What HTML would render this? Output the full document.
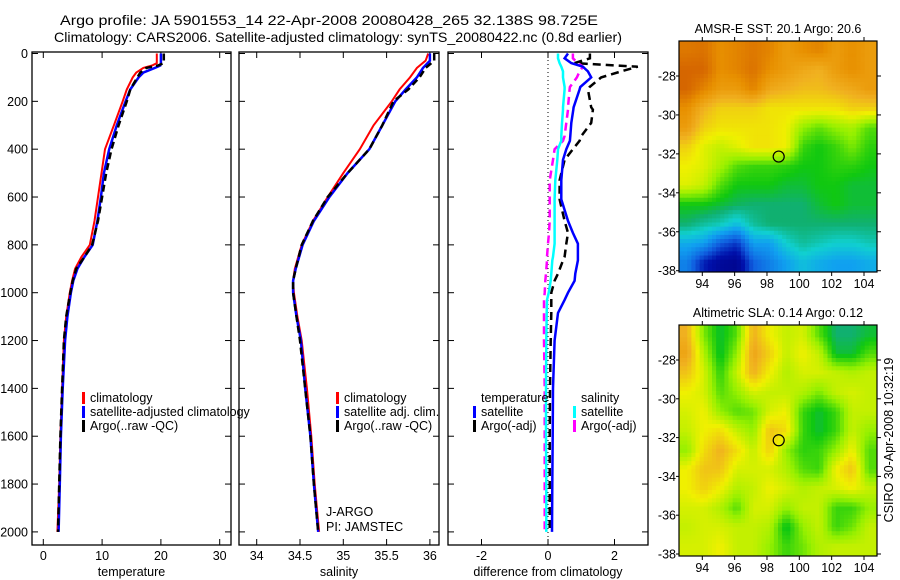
<!DOCTYPE html>
<html><head><meta charset="utf-8"><style>
body{margin:0;background:#fff;}
svg{display:block;font-family:"Liberation Sans",sans-serif;}
</style></head><body>
<svg id="s" width="900" height="580" viewBox="0 0 900 580">
<text x="329" y="25" font-size="14" textLength="538" lengthAdjust="spacingAndGlyphs" text-anchor="middle">Argo profile: JA 5901553_14 22-Apr-2008 20080428_265 32.138S 98.725E</text>
<text x="338" y="42" font-size="14" textLength="568" lengthAdjust="spacingAndGlyphs" text-anchor="middle">Climatology: CARS2006. Satellite-adjusted climatology: synTS_20080422.nc (0.8d earlier)</text>
<text transform="translate(893,440) rotate(-90)" font-size="12.5" text-anchor="middle">CSIRO 30-Apr-2008 10:32:19</text>
</svg>
<script>
// ---- data ----
const tDepth=[0,20,40,50,60,80,100,150,200,300,400,500,600,700,800,850,900,950,1000,1100,1200,1400,1600,1800,2000];
const tArgo=[20.5,20.5,20.5,19.5,17.5,16.5,16.0,14.8,14.2,12.8,11.6,10.7,10.0,9.3,8.3,7.0,5.6,5.0,4.6,3.9,3.5,3.2,2.9,2.7,2.5];
const tClim=[19.3,19.3,19.3,18.5,17.0,15.8,15.2,14.2,13.5,12.0,10.5,9.9,9.3,8.7,7.9,6.5,5.4,4.9,4.5,3.9,3.5,3.2,2.9,2.7,2.4];
const tSat=[20.0,20.0,20.0,19.9,19.0,17.0,16.2,14.8,14.0,12.5,11.2,10.3,9.8,9.2,8.4,7.0,5.8,5.1,4.7,4.1,3.7,3.3,3.0,2.8,2.6];
const sDepth=[0,30,60,100,150,200,300,400,500,600,700,800,900,950,1000,1100,1200,1400,1600,1800,2000];
const sArgo=[36.05,36.05,35.95,35.88,35.75,35.58,35.45,35.30,35.05,34.82,34.65,34.52,34.45,34.42,34.42,34.46,34.50,34.56,34.62,34.66,34.71];
const sClim=[35.98,35.95,35.85,35.77,35.65,35.56,35.35,35.19,35.00,34.82,34.65,34.52,34.44,34.42,34.43,34.47,34.52,34.58,34.63,34.67,34.72];
const sSat=[36.0,36.0,35.92,35.85,35.72,35.60,35.45,35.30,35.05,34.84,34.66,34.53,34.45,34.42,34.42,34.46,34.51,34.56,34.62,34.66,34.71];
const dDepth=[0,20,40,55,75,100,140,150,225,235,290,345,365,400,445,530,610,700,750,795,850,865,920,950,1000,1030,1085,1200,1400,1600,1800,2000];
const dTSat=[0.6,0.5,0.7,1.05,1.2,1.3,0.97,0.95,0.77,0.76,0.7,0.67,0.66,0.55,0.45,0.4,0.4,0.6,0.75,0.9,0.9,0.9,0.82,0.8,0.6,0.5,0.3,0.2,0.15,0.14,0.13,0.12];
const dTArgo=[1.26,1.26,0.8,2.7,2.2,1.6,1.25,1.2,1.3,1.35,1.3,1.0,0.95,0.75,0.5,0.35,0.35,0.5,0.6,0.55,0.5,0.45,0.3,0.2,0.1,0.1,0.1,0.08,0.06,0.05,0.05,0.05];
const dSSat=[0.3,0.3,0.35,0.4,0.45,0.45,0.5,0.5,0.45,0.45,0.42,0.4,0.4,0.3,0.28,0.22,0.2,0.2,0.2,0.2,0.15,0.13,0.1,0.08,0.02,-0.03,-0.04,-0.05,-0.06,-0.06,-0.05,-0.05];
const dSArgo=[0.75,0.75,0.9,1.05,0.95,0.87,0.66,0.65,0.6,0.6,0.55,0.5,0.45,0.2,0.15,0.05,0.05,0.05,0.03,0.0,-0.03,-0.03,-0.06,-0.08,-0.1,-0.12,-0.12,-0.12,-0.1,-0.1,-0.1,-0.1];
const depthTicks=[0,200,400,600,800,1000,1200,1400,1600,1800,2000];
const tTicks=[0,10,20,30];
const sTicks=[34,34.5,35,35.5,36];
const dTicks=[-2,0,2];
const lonTicks=[94,96,98,100,102,104];
const latTicks=[-28,-30,-32,-34,-36,-38];
const floatLon=98.725, floatLat=-32.138;
const sstGrid=[
[0.92,0.93,0.88,0.9,0.92,0.9,0.85,0.88,0.9,0.85,0.88,0.85],
[0.95,0.95,0.88,0.9,0.93,0.88,0.85,0.82,0.8,0.85,0.88,0.85],
[0.95,0.9,0.85,0.85,0.9,0.82,0.8,0.78,0.78,0.8,0.82,0.85],
[0.88,0.8,0.75,0.75,0.75,0.72,0.72,0.72,0.72,0.72,0.75,0.75],
[0.85,0.75,0.72,0.72,0.72,0.72,0.7,0.6,0.56,0.6,0.62,0.55],
[0.75,0.68,0.65,0.68,0.72,0.72,0.7,0.53,0.5,0.53,0.58,0.52],
[0.7,0.68,0.62,0.55,0.53,0.53,0.52,0.5,0.5,0.52,0.52,0.5],
[0.68,0.65,0.55,0.5,0.5,0.5,0.48,0.48,0.5,0.5,0.48,0.48],
[0.5,0.5,0.48,0.46,0.45,0.45,0.45,0.45,0.48,0.5,0.48,0.48],
[0.45,0.42,0.4,0.35,0.42,0.45,0.45,0.45,0.45,0.45,0.45,0.45],
[0.32,0.3,0.2,0.15,0.3,0.3,0.38,0.42,0.4,0.38,0.38,0.4],
[0.25,0.12,0.06,0.04,0.2,0.25,0.3,0.35,0.32,0.3,0.3,0.32]];
const slaGrid=[
[0.8,0.58,0.48,0.55,0.8,0.7,0.65,0.67,0.55,0.45,0.45,0.48],
[0.83,0.63,0.48,0.6,0.83,0.75,0.65,0.7,0.65,0.48,0.48,0.55],
[0.77,0.67,0.52,0.65,0.8,0.7,0.63,0.67,0.67,0.65,0.63,0.65],
[0.7,0.67,0.55,0.6,0.67,0.65,0.65,0.63,0.58,0.65,0.67,0.65],
[0.67,0.7,0.6,0.55,0.57,0.67,0.7,0.53,0.48,0.53,0.65,0.65],
[0.65,0.7,0.73,0.65,0.6,0.77,0.73,0.53,0.48,0.53,0.65,0.6],
[0.6,0.73,0.8,0.73,0.65,0.75,0.6,0.52,0.53,0.6,0.7,0.55],
[0.7,0.77,0.77,0.67,0.67,0.67,0.63,0.55,0.53,0.7,0.77,0.55],
[0.7,0.75,0.7,0.63,0.65,0.7,0.67,0.63,0.65,0.67,0.7,0.65],
[0.67,0.67,0.63,0.55,0.67,0.67,0.6,0.65,0.65,0.53,0.53,0.6],
[0.65,0.67,0.67,0.65,0.65,0.63,0.48,0.6,0.65,0.53,0.57,0.65],
[0.67,0.67,0.7,0.65,0.65,0.6,0.53,0.57,0.63,0.65,0.65,0.65]];
// ---- drawing ----
const S=document.getElementById('s');
const NS='http://www.w3.org/2000/svg';
function mk(tag,at,parent){const e=document.createElementNS(NS,tag);for(const k in at)e.setAttribute(k,at[k]);(parent||S).appendChild(e);return e;}
const Y0=53.5, YS=0.2392, TOP=52, BOT=545;
const yD=d=>Y0+d*YS;
const panels=[
 {x0:32,x1:231,v0:0,px0:43.3,sc:5.88,ticks:tTicks,lab:'temperature',name:'temperature'},
 {x0:239,x1:439,v0:34,px0:256.7,sc:86.6,ticks:sTicks,lab:'salinity',name:'salinity'},
 {x0:448,x1:648,v0:0,px0:548,sc:33.25,ticks:dTicks,lab:'difference from climatology',name:'difference'}];
panels.forEach((p,i)=>{
  p.fx=v=>p.px0+(v-p.v0)*p.sc;
  const r=mk('rect',{x:p.x0,y:TOP,width:p.x1-p.x0,height:BOT-TOP,fill:'none',stroke:'#000','stroke-width':1.3});
  
  
  depthTicks.forEach(d=>{
    const y=yD(d);
    const t1=mk('line',{x1:p.x0,x2:p.x0+6,y1:y,y2:y,stroke:'#000'});
    
    
    mk('line',{x1:p.x1,x2:p.x1-6,y1:y,y2:y,stroke:'#000'});
    if(i==0){const t=mk('text',{x:28,y:y+4.5,'font-size':12.5,'text-anchor':'end'});t.textContent=d;
      
      }
  });
  p.ticks.forEach(v=>{
    const x=p.fx(v);
    mk('line',{x1:x,x2:x,y1:TOP,y2:TOP+6,stroke:'#000'});
    mk('line',{x1:x,x2:x,y1:BOT,y2:BOT-6,stroke:'#000'});
    const t=mk('text',{x:x,y:BOT+15,'font-size':12.5,'text-anchor':'middle'});t.textContent=v;
    
    
  });
  const xl=mk('text',{x:(p.x0+p.x1)/2,y:576,'font-size':12.5,'text-anchor':'middle'});xl.textContent=p.lab;
  
  
});
function line(p,depths,vals,col,w,dash,name){
  const pts=depths.map((d,k)=>p.fx(vals[k]).toFixed(1)+','+yD(d).toFixed(1)).join(' ');
  const a={points:pts,fill:'none',stroke:col,'stroke-width':w};
  if(dash)a['stroke-dasharray']=dash;
  const e=mk('polyline',a);
  
  
}
const [P1,P2,P3]=panels;
line(P1,tDepth,tClim,'#f00',2,null,'temperature-climatology-line');
line(P1,tDepth,tSat,'#00f',2.5,null,'temperature-satellite-line');
line(P1,tDepth,tArgo,'#000',2.5,'7,4','temperature-argo-line');
line(P2,sDepth,sClim,'#f00',2,null,'salinity-climatology-line');
line(P2,sDepth,sSat,'#00f',2.5,null,'salinity-satellite-line');
line(P2,sDepth,sArgo,'#000',2.5,'7,4','salinity-argo-line');
const zl=mk('line',{x1:P3.fx(0),x2:P3.fx(0),y1:TOP,y2:BOT,stroke:'#000','stroke-dasharray':'1,3'});


line(P3,dDepth,dTArgo,'#000',2.5,'8,5','temperature-argo-diff-line');
line(P3,dDepth,dSArgo,'#f0f',2.5,'8,5','salinity-argo-diff-line');
line(P3,dDepth,dTSat,'#00f',2.5,null,'temperature-satellite-diff-line');
line(P3,dDepth,dSSat,'#0ff',2.5,null,'salinity-satellite-diff-line');
function leg(x,y,col,txt,name){
  if(col){const b=mk('rect',{x:x,y:y-10,width:3,height:12,fill:col});
    
    }
  const t=mk('text',{x:x+8,y:y,'font-size':12.5});t.textContent=txt;
  
  
}
leg(82,402,'#f00','climatology','legend-climatology');
leg(82,416,'#00f','satellite-adjusted climatology','legend-satellite-adjusted');
leg(82,430,'#000','Argo(..raw -QC)','legend-argo');
leg(336,402,'#f00','climatology','legend-climatology-sal');
leg(336,416,'#00f','satellite adj. clim.','legend-satellite-sal');
leg(336,430,'#000','Argo(..raw -QC)','legend-argo-sal');
leg(473,402,null,'temperature','legend-temperature-heading');
leg(473,416,'#00f','satellite','legend-temp-satellite');
leg(473,430,'#000','Argo(-adj)','legend-temp-argo');
leg(573,402,null,'salinity','legend-salinity-heading');
leg(573,416,'#0ff','satellite','legend-sal-satellite');
leg(573,430,'#f0f','Argo(-adj)','legend-sal-argo');
leg(318,516,null,'J-ARGO','project-label');
leg(318,531,null,'PI: JAMSTEC','pi-label');
// colormap
const cm=[[0,[0,0,128]],[0.1,[0,16,170]],[0.2,[16,96,224]],[0.3,[16,160,240]],[0.38,[16,208,208]],[0.45,[16,176,112]],[0.5,[16,200,16]],[0.6,[150,240,0]],[0.7,[240,240,0]],[0.8,[240,176,32]],[0.88,[232,144,0]],[1,[200,72,0]]];
function col(v){v=Math.max(0,Math.min(1,v));for(let i=1;i<cm.length;i++){if(v<=cm[i][0]){const [a,ca]=cm[i-1],[b,cb]=cm[i];const f=(v-a)/(b-a);return 'rgb('+ca.map((c,k)=>Math.round(c+(cb[k]-c)*f)).join(',')+')';}}return 'rgb(200,72,0)';}
function map(g,x0,x1,y0,y1,lat28y,lat38y,title,name,tickTop){
  const lonX=lon=>702.3+(lon-94)*16.17;
  const latY=lat=>lat28y+(-28-lat)*(lat38y-lat28y)/10;
  const grp=mk('g',{});
  
  
  const nx=48,ny=56,cw=(x1-x0)/nx,ch=(y1-y0)/ny;
  for(let j=0;j<ny;j++)for(let i=0;i<nx;i++){
    const gx=Math.max(0,Math.min(10.999,(i+0.5)/nx*12-0.5)),gy=Math.max(0,Math.min(10.999,(j+0.5)/ny*12-0.5));
    const ix=Math.floor(gx),iy=Math.floor(gy),fx=gx-ix,fy=gy-iy;
    const v=g[iy][ix]*(1-fx)*(1-fy)+g[iy][ix+1]*fx*(1-fy)+g[iy+1][ix]*(1-fx)*fy+g[iy+1][ix+1]*fx*fy;
    mk('rect',{x:(x0+i*cw).toFixed(2),y:(y0+j*ch).toFixed(2),width:(cw+0.4).toFixed(2),height:(ch+0.4).toFixed(2),fill:col(v)},grp);
  }
  mk('rect',{x:x0,y:y0,width:x1-x0,height:y1-y0,fill:'none',stroke:'#000','stroke-width':1.2});
  lonTicks.forEach(l=>{const x=lonX(l);mk('line',{x1:x,x2:x,y1:y1,y2:y1+4,stroke:'#000'});mk('line',{x1:x,x2:x,y1:y0,y2:y0-4,stroke:'#000'});
    if(!tickTop){const t=mk('text',{x:x,y:y1+16,'font-size':12.5,'text-anchor':'middle'});t.textContent=l;
    
    }});
  latTicks.forEach(l=>{const y=latY(l);mk('line',{x1:x1,x2:x1+4,y1:y,y2:y,stroke:'#000'});mk('line',{x1:x0,x2:x0-3,y1:y,y2:y,stroke:'#000'});
    const t=mk('text',{x:676,y:y+4.5,'font-size':12.5,'text-anchor':'end'});t.textContent=l;
    
    });
  const c=mk('circle',{cx:lonX(floatLon),cy:latY(floatLat),r:5.5,fill:'none',stroke:'#000','stroke-width':1.2});
  
  
  const t=mk('text',{x:778,y:y0-8,'font-size':12.5,'text-anchor':'middle'});t.textContent=title;
  
  
}
map(sstGrid,679,877,41,272,76,270.7,'AMSR-E SST: 20.1  Argo: 20.6','sst-map',true);
map(slaGrid,679,877,325,556,360,554,'Altimetric SLA: 0.14  Argo: 0.12','sla-map',false);
// top map lon labels
lonTicks.forEach(l=>{const t=mk('text',{x:702.3+(l-94)*16.17,y:288,'font-size':12.5,'text-anchor':'middle'});t.textContent=l;
  
  });
</script>
</body></html>
